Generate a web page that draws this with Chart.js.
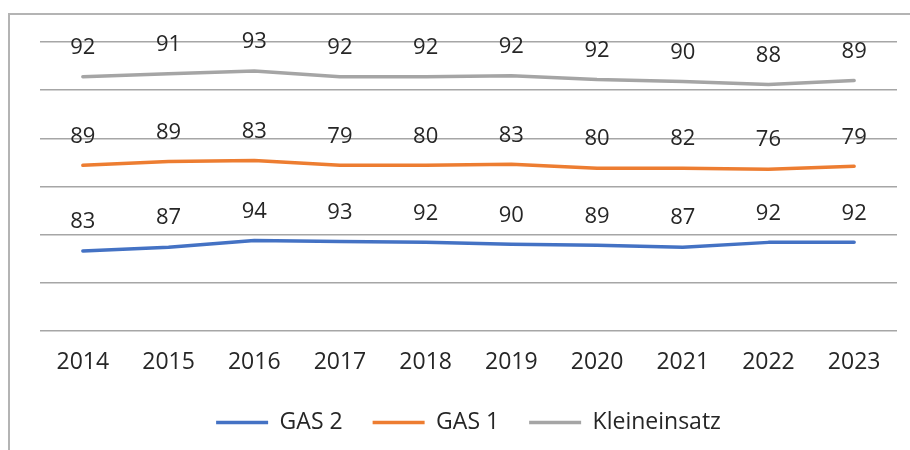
<!DOCTYPE html>
<html>
<head>
<meta charset="utf-8">
<script src="https://cdn.jsdelivr.net/npm/chart.js@4"></script>
<style>
  html, body { margin: 0; padding: 0; background: #fff; }
  #wrap { position: relative; width: 910px; height: 450px; }
  #frame { position: absolute; left: 8px; top: 13px; right: 0; bottom: 0;
           border-left: 2px solid #b4b4b4; border-top: 2px solid #b4b4b4; }
  canvas { position: absolute; left: 0; top: 0; }
</style>
</head>
<body>
<div id="wrap">
  <div id="frame"></div>
  <canvas id="chart" width="910" height="450"></canvas>
</div>
<script>
// Daten (gestapelte Linien wie im Excel-Original)
const jahre = ['2014', '2015', '2016', '2017', '2018', '2019', '2020', '2021', '2022', '2023'];
const gas2 = [83, 87, 94, 93, 92, 90, 89, 87, 92, 92];
const gas1 = [89, 89, 83, 79, 80, 83, 80, 82, 76, 79];
const kleineinsatz = [92, 91, 93, 92, 92, 92, 92, 90, 88, 89];

const schrift = "'Open Sans', 'Lato', sans-serif";

// Werte über den Punkten anzeigen
const wertLabels = {
    id: 'wertLabels',
    afterDatasetsDraw(chart) {
        const ctx = chart.ctx;
        ctx.save();
        ctx.font = '22px ' + schrift;
        ctx.fillStyle = '#262626';
        ctx.textAlign = 'center';
        ctx.textBaseline = 'middle';
        chart.data.datasets.forEach((ds, i) => {
            const meta = chart.getDatasetMeta(i);
            meta.data.forEach((pt, j) => {
                ctx.fillText(String(ds.data[j]), pt.x, pt.y - 29);
            });
        });
        ctx.restore();
    }
};

function linie(label, data, farbe) {
    return {
        label,
        data,
        borderColor: farbe,
        backgroundColor: farbe,
        borderWidth: 3.5,
        borderCapStyle: 'round',
        borderJoinStyle: 'round',
        pointRadius: 0,
        pointHoverRadius: 0,
        tension: 0,
        fill: false
    };
}

new Chart(document.getElementById('chart'), {
    type: 'line',
    data: {
        labels: jahre,
        datasets: [
            linie('GAS 2', gas2, '#4472C4'),
            linie('GAS 1', gas1, '#ED7D31'),
            linie('Kleineinsatz', kleineinsatz, '#A5A5A5')
        ]
    },
    options: {
        responsive: false,
        animation: false,
        layout: { padding: { left: 40, right: 13, top: 42, bottom: 6 } },
        plugins: {
            tooltip: { enabled: false },
            legend: {
                position: 'bottom',
                labels: {
                    usePointStyle: true,
                    pointStyle: 'line',
                    pointStyleWidth: 52,
                    padding: 30,
                    color: '#262626',
                    font: { family: schrift, size: 23 }
                }
            }
        },
        scales: {
            x: {
                offset: true,
                grid: { display: false, drawTicks: false },
                border: { display: false },
                ticks: { color: '#262626', padding: 18, font: { family: schrift, size: 23 } },
                afterFit: s => { s.height = 50; }
            },
            y: {
                stacked: true,
                min: 0,
                max: 300,
                ticks: { display: false, stepSize: 50 },
                grid: { color: '#a6a6a6', lineWidth: 1.5, drawTicks: false },
                border: { display: false },
                afterFit: s => { s.width = 0; }
            }
        }
    },
    plugins: [wertLabels]
});
</script>
</body>
</html>
